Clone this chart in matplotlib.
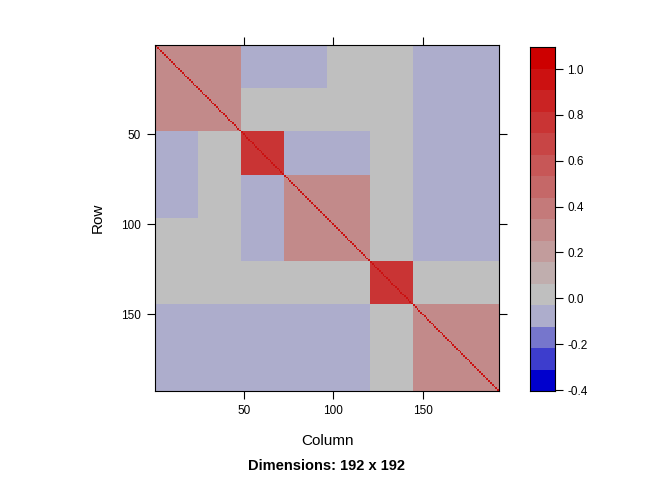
import numpy as np
import matplotlib
matplotlib.use("Agg")
import matplotlib.pyplot as plt
from matplotlib.colors import ListedColormap, BoundaryNorm

plt.rcParams['font.family'] = ['Liberation Sans', 'DejaVu Sans']

# DATA: 192 variables in 8 groups of 24 rows/columns.
group_sizes = [24, 24, 24, 24, 24, 24, 24, 24]
# estimated mean correlation between groups (symmetric)
group_corr = [
    [0.30, 0.30, -0.04, -0.04, 0.01, 0.03, -0.06, -0.06],
    [0.30, 0.30, 0.00, 0.00, 0.02, 0.03, -0.05, -0.05],
    [-0.04, 0.00, 0.78, -0.04, -0.04, 0.01, -0.06, -0.06],
    [-0.04, 0.00, -0.04, 0.30, 0.30, 0.03, -0.05, -0.04],
    [0.01, 0.02, -0.04, 0.30, 0.30, 0.02, -0.04, -0.05],
    [0.03, 0.03, 0.01, 0.03, 0.02, 0.80, -0.02, -0.02],
    [-0.06, -0.05, -0.06, -0.05, -0.04, -0.02, 0.30, 0.30],
    [-0.06, -0.05, -0.06, -0.04, -0.05, -0.02, 0.30, 0.30],
]
diag_value = 1.0

# colour key: 16 intervals
breaks = np.linspace(-0.404, 1.096, 17)
key_ticks = [-0.4, -0.2, 0.0, 0.2, 0.4, 0.6, 0.8, 1.0]
axis_ticks = [50, 100, 150]
neg_steps = [0.0, 0.30, 0.58, 0.85]          # blue3 -> gray80
pos_steps = np.linspace(0, 1, 12)            # gray75 -> red3

labels = np.repeat(np.arange(len(group_sizes)), group_sizes)
M = np.array(group_corr)[np.ix_(labels, labels)]
np.fill_diagonal(M, diag_value)
n = M.shape[0]

blue3, gray80 = np.array([0, 0, 205]), np.array([204, 204, 204])
gray75, red3 = np.array([191, 191, 191]), np.array([205, 0, 0])
cols = [blue3 + (gray80 - blue3) * t for t in neg_steps]
cols += [gray75 + (red3 - gray75) * t for t in pos_steps]
cmap = ListedColormap(np.array(cols) / 255.0)
norm = BoundaryNorm(breaks, cmap.N)

fig = plt.figure(figsize=(6.72, 4.8), dpi=100)
ax = fig.add_axes([155 / 672, 1 - 391 / 480, 344 / 672, 346 / 480])
ax.imshow(M, cmap=cmap, norm=norm, interpolation='nearest', aspect='auto',
          extent=(0.5, n + 0.5, n + 0.5, 0.5))
ax.set_xlim(0.5, n + 0.5)
ax.set_ylim(n + 0.5, 0.5)
ax.set_xticks(axis_ticks)
ax.set_yticks(axis_ticks)
ax.tick_params(direction='out', length=6, width=0.8, labelsize=8.5, pad=4,
               top=True, right=True, labeltop=False, labelright=False)
for s in ax.spines.values():
    s.set_linewidth(0.8)
ax.set_xlabel("Column", fontsize=11, labelpad=12)
ax.set_ylabel("Row", fontsize=11, labelpad=12)
fig.text(327 / 672, 1 - 466 / 480, "Dimensions: 192 x 192", fontsize=10.5,
         fontweight='bold', ha='center', va='center')

# colour key
cax = fig.add_axes([530 / 672, 1 - 391 / 480, 25 / 672, 344 / 480])
for i in range(len(breaks) - 1):
    cax.axhspan(breaks[i], breaks[i + 1], color=cmap(i), lw=0)
cax.set_ylim(breaks[0], breaks[-1])
cax.set_xlim(0, 1)
cax.set_xticks([])
cax.yaxis.tick_right()
cax.set_yticks(key_ticks)
cax.set_yticklabels([f"{v:.1f}" for v in key_ticks])
cax.tick_params(direction='out', length=6, width=0.8, labelsize=8.5, pad=3)
for s in cax.spines.values():
    s.set_linewidth(0.8)

fig.savefig("out.png", dpi=100)
